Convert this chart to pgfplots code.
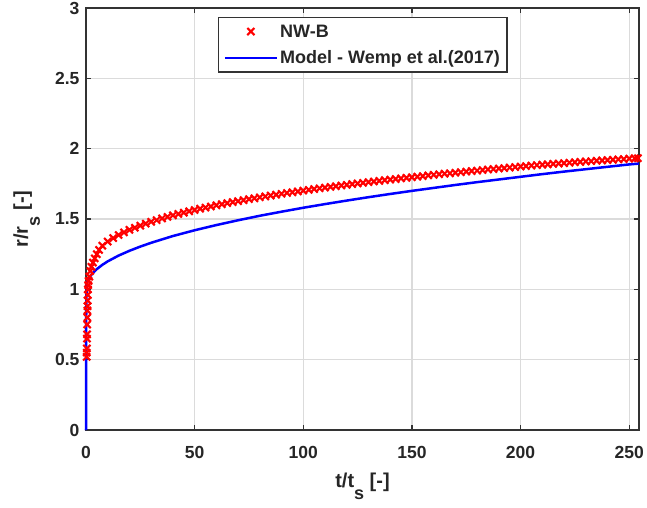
\documentclass[border=0pt]{standalone}
\usepackage{fontspec}
\setmainfont{Liberation Sans}
\usepackage{pgfplots}
\pgfplotsset{compat=1.18}
\pgfplotsset{
 marklegend/.style={legend image code/.code={\path[draw=none] (0pt,0pt) -- (52pt,0pt); \draw[##1] plot coordinates {(26pt,0pt)};}},
 linelegend/.style={legend image code/.code={\draw[##1] (0pt,0pt) -- (52pt,0pt);}},
}
\begin{document}
\begin{tikzpicture}
\begin{axis}[name=ax, width=553pt, height=422pt, scale only axis,
 xmin=0, xmax=254.5, ymin=0, ymax=3,
 xtick={0,50,100,150,200,250}, ytick={0,0.5,1,1.5,2,2.5,3},
 grid=major, major grid style={color=black!14, line width=1.4pt},
 axis line style={color=black!80, line width=1.3pt},
 tick style={color=black!80, line width=1.3pt},
 major tick length=5pt, tick align=inside,
 /pgf/number format/assume math mode=true,
 ticklabel style={font=\fontsize{17.5}{20}\selectfont\bfseries, color=black!85},
 xticklabel style={yshift=-13pt},
 yticklabel style={xshift=-3pt},
 label style={font=\fontsize{20}{22}\selectfont\bfseries, color=black!85},
 xlabel={t/t\raisebox{-12pt}{\fontsize{18}{18}\selectfont s} [-]},
 ylabel={r/r\raisebox{-12pt}{\fontsize{18}{18}\selectfont s} [-]},
 xlabel style={at={(axis description cs:0.5,0)}, anchor=base, yshift=-57pt},
 ylabel style={at={(axis description cs:0,0.5)}, anchor=base, yshift=58pt},
 clip=false,
 legend cell align=left,
 legend style={at={(0.2387,0.9787)}, anchor=north west, draw=black!80, line width=1.3pt, fill=white,
   font=\fontsize{18}{20}\selectfont\bfseries, text=black!85, inner xsep=5pt, inner ysep=5pt,
   row sep=8pt, /tikz/every even column/.append style={column sep=3pt}},
]
\addplot[only marks, mark=x, color=red, line width=2pt, mark size=5pt, mark options={line width=2.1pt}, marklegend]
 coordinates {
(0.3,0.52)(0.35,0.55)(0.4,0.58)(0.45,0.65)(0.5,0.68)(0.55,0.75)(0.6,0.80)(0.65,0.85)(0.7,0.88)(0.75,0.92)
(0.8,0.96)(0.9,1.00)(1.0,1.03)(1.2,1.06)(1.5,1.09)(2.0,1.13)(2.5,1.16)(3.2,1.19)(4,1.22)(5,1.25)(6,1.28)(7.5,1.31)
(10,1.34)(12.5,1.364)(15,1.386)(17.5,1.405)(20,1.423)(22.5,1.438)(25,1.453)(27.5,1.467)(30,1.480)(32.5,1.492)
(35,1.504)(37.5,1.515)(40,1.526)(42.5,1.536)(45,1.545)(47.5,1.555)(50,1.564)(52.5,1.573)(55,1.581)(57.5,1.589)
(60,1.597)(62.5,1.605)(65,1.613)(67.5,1.620)(70,1.627)(72.5,1.634)(75,1.641)(77.5,1.647)(80,1.654)(82.5,1.660)
(85,1.667)(87.5,1.673)(90,1.679)(92.5,1.685)(95,1.690)(97.5,1.696)(100,1.702)(102.5,1.707)(105,1.713)(107.5,1.718)
(110,1.723)(112.5,1.728)(115,1.733)(117.5,1.738)(120,1.743)(122.5,1.748)(125,1.753)(127.5,1.757)(130,1.762)
(132.5,1.767)(135,1.771)(137.5,1.776)(140,1.780)(142.5,1.784)(145,1.789)(147.5,1.793)(150,1.797)(152.5,1.801)
(155,1.805)(157.5,1.810)(160,1.814)(162.5,1.818)(165,1.822)(167.5,1.825)(170,1.829)(172.5,1.833)(175,1.837)
(177.5,1.841)(180,1.844)(182.5,1.848)(185,1.852)(187.5,1.855)(190,1.859)(192.5,1.862)(195,1.866)(197.5,1.869)
(200,1.873)(202.5,1.876)(205,1.880)(207.5,1.883)(210,1.886)(212.5,1.889)(215,1.892)(217.5,1.894)(220,1.897)
(222.5,1.900)(225,1.904)(227.5,1.906)(230,1.909)(232.5,1.911)(235,1.914)(237.5,1.916)(240,1.919)(242.5,1.921)
(245,1.924)(247.5,1.926)(250,1.929)(252.5,1.931)(254,1.932)
};
\addlegendentry{NW-B}
\addplot[color=blue, line width=2.5pt, mark=none, linelegend]
 coordinates {
(0,0)(0.02,0.3)(0.05,0.6)(0.1,0.8)(0.2,0.95)(0.35,1.02)(0.5,1.049)(1,1.068)(2,1.094)(3,1.114)(4,1.130)(5,1.144)
(7.5,1.174)(10,1.199)(15,1.240)(20,1.274)(25,1.304)(30,1.331)(40,1.379)(50,1.420)(60,1.457)(70,1.491)(80,1.523)
(90,1.552)(100,1.580)(110,1.606)(120,1.631)(130,1.655)(140,1.678)(150,1.700)(160,1.721)(170,1.742)(180,1.762)
(190,1.781)(200,1.800)(210,1.819)(220,1.837)(230,1.854)(240,1.871)(250,1.888)(254.5,1.894)
};
\addlegendentry{Model - Wemp et al.(2017)}
\end{axis}
\pgfresetboundingbox
\path (ax.south west) ++(-86pt,-77pt) rectangle ++(647pt,507pt);
\end{tikzpicture}
\end{document}
